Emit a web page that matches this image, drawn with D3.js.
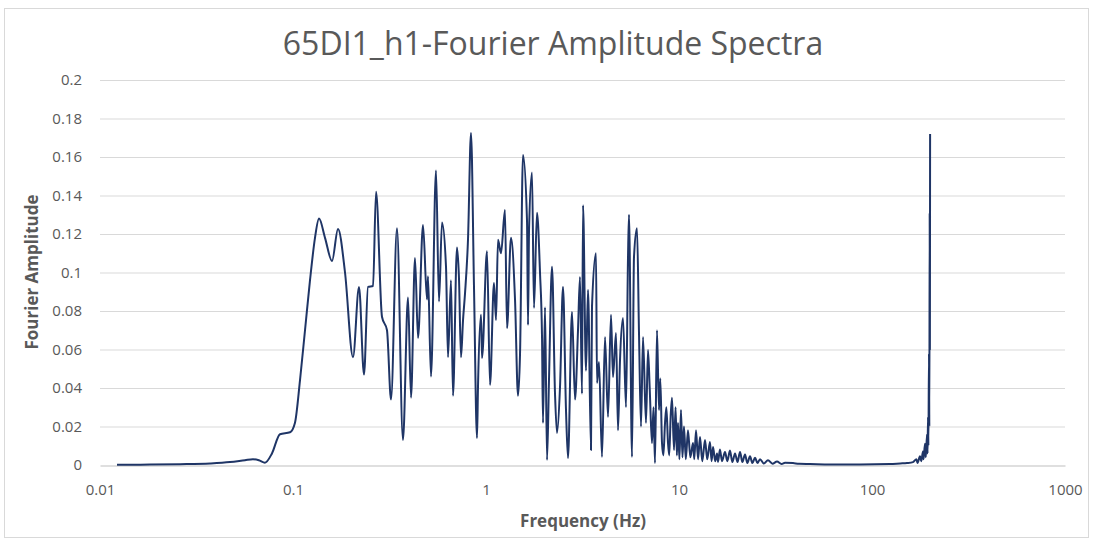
<!DOCTYPE html>
<html>
<head>
<meta charset="utf-8">
<script src="https://cdn.jsdelivr.net/npm/d3@7"></script>
<style>
  body { margin: 0; background: #fff; }
  text { font-family: "Open Sans", sans-serif; fill: #595959; }
</style>
</head>
<body>
<svg id="chart" width="1094" height="543"></svg>
<script>
// frequency (Hz) and Fourier amplitude
const freq = [
  0.01225, 0.01815, 0.026, 0.0372, 0.0472, 0.0564, 0.062, 0.0665, 0.0716, 0.0778, 0.0856, 0.0965,
  0.1024, 0.1087, 0.1154, 0.1225, 0.130, 0.1364, 0.1465, 0.1593, 0.1711, 0.186, 0.2046, 0.2198,
  0.2333, 0.2447, 0.2598, 0.2693, 0.2891, 0.3069, 0.322, 0.3458, 0.3714, 0.3944, 0.4088, 0.4287,
  0.4444, 0.4717, 0.4947, 0.5006, 0.5188, 0.5508, 0.5708, 0.5916, 0.6205, 0.6355, 0.6587, 0.6745,
  0.7074, 0.7245, 0.7421, 0.76, 0.7784, 0.8067, 0.8362, 0.8666, 0.8983, 0.9089, 0.9421, 0.9535,
  1.012, 1.049, 1.100, 1.127, 1.154, 1.196, 1.254, 1.285, 1.347, 1.414, 1.465, 1.501,
  1.555, 1.631, 1.651, 1.671, 1.731, 1.773, 1.837, 1.905, 1.951, 1.974, 2.022, 2.071,
  2.120, 2.198, 2.278, 2.333, 2.418, 2.506, 2.597, 2.660, 2.790, 2.892, 2.997, 3.069,
  3.144, 3.182, 3.297, 3.377, 3.499, 3.541, 3.715, 3.760, 3.850, 3.990, 4.136, 4.287,
  4.443, 4.550, 4.716, 4.830, 4.947, 5.127, 5.314, 5.443, 5.507, 5.708, 5.845, 6.059,
  6.205, 6.355, 6.509, 6.745, 6.908, 7.05, 7.245, 7.38, 7.509, 7.691, 7.877, 8.0,
  8.164, 8.3, 8.463, 8.6, 8.770, 8.9, 9.05, 9.198, 9.421, 9.6, 9.75, 9.881,
  10.05, 10.24, 10.42, 10.61, 10.85, 11.13, 11.45, 11.82, 12.0,
  12.25, 12.55, 12.85, 13.2, 13.64, 14.0, 14.47, 14.75, 15.01, 15.4, 15.74, 15.93,
  16.3, 16.7, 17.31, 17.8, 18.37, 18.9, 19.51, 20.1, 20.71, 21.3, 21.98, 22.6,
  23.33, 24.0, 24.77, 25.5, 26.29, 27.5, 28.91, 30.5, 32.2, 34.0, 35.42, 38.96,
  42.0, 47.74, 60.59, 86.66, 124.0, 140.0, 151.8, 163.1, 170.0, 172.0, 177.3, 180.0,
  183.7, 185.0, 188.2, 190.0, 192.8, 194.0, 195.1, 196.0, 197.4, 198.2, 199.0, 199.5,
  200.0
]
const amp = [
  0.0001, 0.0002, 0.0004, 0.0008, 0.0015, 0.0025, 0.003, 0.0025, 0.0012, 0.006, 0.016, 0.017,
  0.022, 0.044, 0.070, 0.096, 0.118, 0.128, 0.118, 0.106, 0.1226, 0.100, 0.056, 0.0925,
  0.047, 0.0925, 0.093, 0.142, 0.077, 0.070, 0.034, 0.123, 0.013, 0.087, 0.035, 0.1075,
  0.066, 0.1247, 0.086, 0.098, 0.046, 0.153, 0.085, 0.126, 0.103, 0.056, 0.096, 0.036,
  0.113, 0.097, 0.056, 0.075, 0.089, 0.117, 0.1725, 0.0925, 0.014, 0.0405, 0.078, 0.0556,
  0.111, 0.0416, 0.0945, 0.0753, 0.117, 0.110, 0.1325, 0.071, 0.118, 0.0857, 0.036, 0.058,
  0.161, 0.127, 0.0727, 0.122, 0.152, 0.0816, 0.131, 0.0997, 0.0665, 0.0218, 0.082, 0.0026,
  0.044, 0.103, 0.037, 0.0166, 0.0405, 0.0925, 0.0286, 0.0036, 0.0795, 0.034, 0.070, 0.0977,
  0.037, 0.135, 0.049, 0.091, 0.0078, 0.082, 0.110, 0.0426, 0.0535, 0.0042, 0.0665, 0.025,
  0.078, 0.0457, 0.0686, 0.018, 0.0545, 0.0764, 0.030, 0.108, 0.130, 0.0042, 0.108, 0.123,
  0.0686, 0.020, 0.0665, 0.0218, 0.0597, 0.040, 0.0114, 0.030, 0.001, 0.070, 0.0286, 0.045,
  0.0114, 0.005, 0.0218, 0.030, 0.0114, 0.005, 0.025, 0.035, 0.0078, 0.030, 0.005, 0.0218,
  0.003, 0.0286, 0.004, 0.020, 0.003, 0.018, 0.004, 0.0114, 0.003,
  0.018, 0.003, 0.0145, 0.002, 0.013, 0.003, 0.012, 0.002, 0.0094, 0.002, 0.006, 0.0016,
  0.008, 0.002, 0.0068, 0.002, 0.0075, 0.0015, 0.006, 0.0015, 0.0068, 0.0015, 0.0055, 0.001,
  0.0045, 0.001, 0.0038, 0.001, 0.003, 0.0008, 0.0025, 0.0007, 0.0018, 0.0005, 0.0012, 0.001,
  0.0006, 0.0005, 0.0003, 0.0003, 0.0005, 0.0008, 0.001, 0.0015, 0.003, 0.001, 0.0045, 0.002,
  0.007, 0.003, 0.011, 0.004, 0.016, 0.006, 0.025, 0.010, 0.058, 0.020, 0.131, 0.060,
  0.172
]
const xTicks = [0.01, 0.1, 1, 10, 100, 1000]
const yTicks = [0, 0.02, 0.04, 0.06, 0.08, 0.1, 0.12, 0.14, 0.16, 0.18, 0.2]

const svg = d3.select('#chart')
const plotLeft = 100
const plotRight = 1065
const plotTop = 80
const plotBottom = 465

svg.append('rect')
  .attr('x', 4.5).attr('y', 8.5)
  .attr('width', 1084).attr('height', 529)
  .attr('fill', '#fff')
  .attr('stroke', '#d9d9d9')

const x = d3.scaleLog().domain([0.01, 1000]).range([plotLeft, plotRight])
const y = d3.scaleLinear().domain([0, 0.2]).range([plotBottom, plotTop])

// horizontal gridlines
svg.append('g')
  .selectAll('line')
  .data(yTicks.slice(1))
  .join('line')
  .attr('x1', plotLeft).attr('x2', plotRight)
  .attr('y1', d => y(d) + 0.5).attr('y2', d => y(d) + 0.5)
  .attr('stroke', '#d9d9d9')

// y axis labels
const yAxis = svg.append('g')
  .attr('transform', `translate(${plotLeft},0)`)
  .call(d3.axisLeft(y).tickValues(yTicks).tickSize(0).tickPadding(18).tickFormat(d => d3.format('~g')(d)))
yAxis.select('.domain').remove()
yAxis.selectAll('text').attr('font-size', 15).attr('fill', '#595959')
  .style('font-family', '"Open Sans", sans-serif')

// x axis
const xAxis = svg.append('g')
  .attr('transform', `translate(0,${plotBottom})`)
  .call(d3.axisBottom(x).tickValues(xTicks).tickSize(0).tickPadding(19).tickFormat(d => d3.format('~g')(d)))
xAxis.select('.domain').attr('stroke', '#bfbfbf').attr('transform', 'translate(0,0.5)')
xAxis.selectAll('text').attr('font-size', 15).attr('fill', '#595959')
  .style('font-family', '"Open Sans", sans-serif')

// spectrum line
const line = d3.line()
  .x(d => x(d[0]))
  .y(d => y(d[1]))
  .curve(d3.curveMonotoneX)

svg.append('path')
  .datum(d3.zip(freq, amp))
  .attr('d', line)
  .attr('fill', 'none')
  .attr('stroke', '#1f3566')
  .attr('stroke-width', 2)
  .attr('stroke-linejoin', 'round')

// titles
svg.append('text')
  .attr('x', 553).attr('y', 55)
  .attr('text-anchor', 'middle')
  .attr('font-size', 32)
  .attr('font-weight', 500)
  .text('65DI1_h1-Fourier Amplitude Spectra')

svg.append('text')
  .attr('x', 583).attr('y', 527)
  .attr('text-anchor', 'middle')
  .attr('font-size', 17)
  .attr('font-weight', 'bold')
  .text('Frequency (Hz)')

svg.append('text')
  .attr('transform', 'translate(38,272) rotate(-90)')
  .attr('text-anchor', 'middle')
  .attr('font-size', 17)
  .attr('font-weight', 'bold')
  .text('Fourier Amplitude')
</script>
</body>
</html>
